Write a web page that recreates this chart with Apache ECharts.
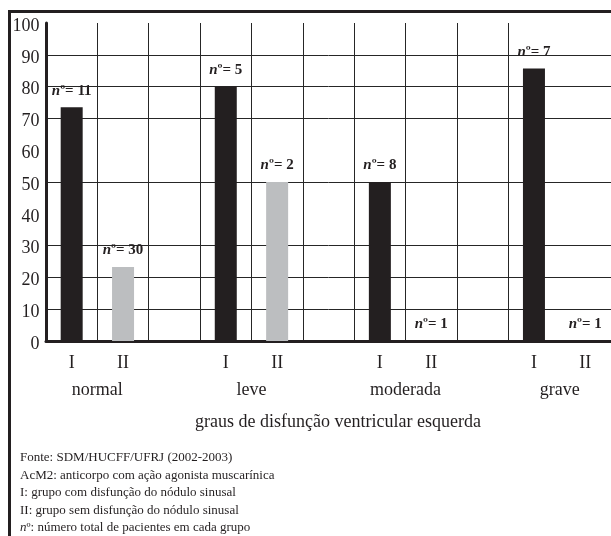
<!DOCTYPE html>
<html><head><meta charset="utf-8">
<script src="https://cdn.jsdelivr.net/npm/echarts@6/dist/echarts.min.js"></script>
<style>html,body{margin:0;padding:0;background:#fff}#c{width:611px;height:536px}</style>
</head><body><div id="c"></div>
<script>
// ---- data ----
const groups = ['normal', 'leve', 'moderada', 'grave'];
const subLabels = ['I', 'II'];
const pctI = [73.5, 80, 50, 85.7];   // % group I (com disfunção do nódulo sinusal)
const pctII = [23.3, 50, 0, 0];      // % group II (sem disfunção do nódulo sinusal)
const nI = [11, 5, 8, 7];
const nII = [30, 2, 1, 1];
const yTickValues = [0, 10, 20, 30, 40, 50, 60, 70, 80, 90, 100];
const yGridDrawn = [false, true, true, true, false, true, false, true, true, true, false];
const axisTitle = 'graus de disfunção ventricular esquerda';
const footnotes = [
  'Fonte: SDM/HUCFF/UFRJ (2002-2003)',
  'AcM2: anticorpo com ação agonista muscarínica',
  'I: grupo com disfunção do nódulo sinusal',
  'II: grupo sem disfunção do nódulo sinusal',
  '{i|n}º: número total de pacientes em cada grupo'
];

// ---- build slot table (I, II, gap, I, II, gap, ...) ----
const categories = [], dataI = [], dataII = [], nSlotI = [], nSlotII = [];
groups.forEach((g, i) => {
  categories.push(subLabels[0], subLabels[1]);
  dataI.push(pctI[i], '-'); dataII.push('-', pctII[i]);
  nSlotI.push(nI[i], null); nSlotII.push(null, nII[i]);
  if (i < groups.length - 1) { categories.push(''); dataI.push('-'); dataII.push('-'); nSlotI.push(null); nSlotII.push(null); }
});
const groupPos = groups.map((g, i) => i * 3 + 1);

const INK = '#231f20', GRID = '#262626', FONT = 'Liberation Serif';
const yGridColors = yGridDrawn.map(d => d ? GRID : 'rgba(0,0,0,0)');
const xGridColors = [];
for (let k = 0; k <= categories.length; k++) xGridColors.push(k === 0 || k >= categories.length - 1 ? 'rgba(0,0,0,0)' : GRID);

const labelRich = {
  n: { fontFamily: FONT, fontSize: 15, fontWeight: 'bold', fontStyle: 'italic', color: INK },
  o: { fontFamily: FONT, fontSize: 15, fontWeight: 'bold', color: INK },
  b: { fontFamily: FONT, fontSize: 15, fontWeight: 'bold', color: INK }
};
function mkLabel(nArr) {
  return {
    show: true, position: 'top', distance: 9,
    formatter: p => '{n|n}{o|º}{b|= ' + nArr[p.dataIndex] + '}',
    rich: labelRich
  };
}

const chart = echarts.init(document.getElementById('c'), null, { renderer: 'canvas' });
chart.setOption({
  animation: false,
  backgroundColor: '#fff',
  graphic: [{
    type: 'rect', z: -10, silent: true,
    shape: { x: 9.5, y: 11.5, width: 800, height: 800 },
    style: { fill: 'none', stroke: INK, lineWidth: 3 }
  }],
  title: {
    left: 20, top: 449, padding: 0,
    text: footnotes.join('\n'),
    textStyle: {
      fontFamily: FONT, fontSize: 13, fontWeight: 'normal', color: INK, lineHeight: 17.5,
      rich: { i: { fontFamily: FONT, fontSize: 13, fontStyle: 'italic', color: INK, lineHeight: 17.5 } }
    }
  },
  grid: { left: 46, top: 23, width: 572, height: 318, containLabel: false },
  xAxis: [{
    type: 'category', data: categories, boundaryGap: true,
    axisLine: { show: true, lineStyle: { color: INK, width: 3 } },
    axisTick: { show: false },
    axisLabel: { interval: 0, margin: 13, fontFamily: FONT, fontSize: 18, color: INK },
    splitLine: { show: true, interval: 0, lineStyle: { color: xGridColors, width: 1 } }
  }, {
    type: 'value', min: 0, max: categories.length, position: 'bottom',
    axisLine: { show: false }, axisTick: { show: false }, splitLine: { show: false },
    axisLabel: {
      customValues: groupPos, margin: 40, fontFamily: FONT, fontSize: 18, color: INK,
      formatter: v => groups[groupPos.indexOf(v)] || ''
    },
    name: axisTitle, nameLocation: 'middle', nameGap: 72,
    nameTextStyle: { fontFamily: FONT, fontSize: 18, color: INK, padding: [0, 0, 0, 19] }
  }],
  yAxis: {
    type: 'value', min: 0, max: 100, interval: 10, offset: 1.5,
    axisLine: { show: true, lineStyle: { color: INK, width: 3 } },
    axisTick: { show: false },
    axisLabel: { margin: 5, fontFamily: FONT, fontSize: 18, color: INK, lineHeight: 24, verticalAlign: 'top', padding: [-9, 0, 0, 0] },
    splitLine: { show: true, lineStyle: { color: yGridColors, width: 1 } }
  },
  series: [{
    name: 'I', type: 'bar', xAxisIndex: 0, data: dataI, barWidth: 22, barGap: '-100%',
    itemStyle: { color: INK }, label: mkLabel(nSlotI)
  }, {
    name: 'II', type: 'bar', xAxisIndex: 0, data: dataII, barWidth: 22, barGap: '-100%',
    itemStyle: { color: '#bcbec0' }, label: mkLabel(nSlotII)
  }]
});
</script>
</body></html>
